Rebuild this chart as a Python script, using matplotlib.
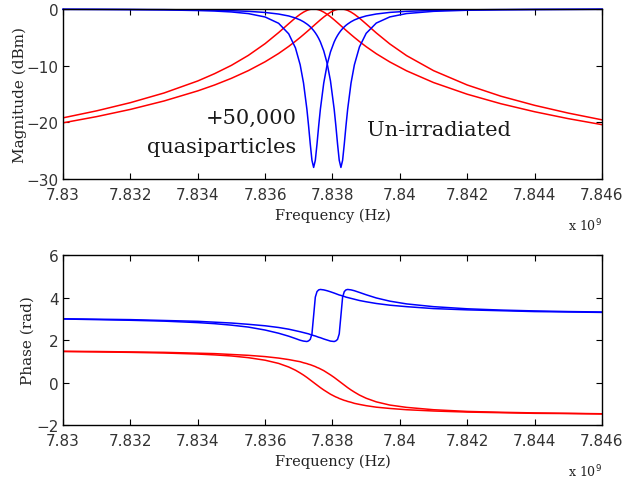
import numpy as np
import matplotlib
matplotlib.use('Agg')
import matplotlib.pyplot as plt

# frequency grid, MHz above 7.830 GHz
offset_mhz = [0, 1, 2, 3, 4, 4.5, 5, 5.5, 6, 6.4, 6.7, 6.9, 7.04, 7.14, 7.24, 7.29, 7.34, 7.39,
              7.44, 7.49, 7.54, 7.59, 7.64, 7.74, 7.84, 7.94, 8.05, 8.1, 8.15, 8.2, 8.25, 8.3,
              8.35, 8.4, 8.45, 8.55, 8.65, 8.8, 9.0, 9.3, 9.7, 10.2, 11, 12, 13, 14, 15, 16]

# magnitude (dBm)
mag_qp_red = [-19.21, -17.97, -16.53, -14.82, -12.70, -11.41, -9.94, -8.19, -6.11, -4.16, -2.59, -1.56,
              -0.93, -0.55, -0.25, -0.14, -0.06, -0.02, 0.0, -0.02, -0.06, -0.14, -0.25, -0.55,
              -0.93, -1.37, -1.91, -2.17, -2.43, -2.69, -2.96, -3.22, -3.49, -3.75, -4.01, -4.52,
              -5.02, -5.74, -6.65, -7.89, -9.34, -10.91, -12.98, -15.04, -16.72, -18.13, -19.35, -20.41]
mag_un_red = [-20.09, -18.99, -17.72, -16.23, -14.45, -13.41, -12.23, -10.88, -9.31, -7.85, -6.60, -5.69,
              -5.02, -4.52, -4.01, -3.75, -3.49, -3.22, -2.96, -2.69, -2.43, -2.17, -1.91, -1.42,
              -0.97, -0.58, -0.25, -0.14, -0.06, -0.02, 0.0, -0.02, -0.06, -0.14, -0.25, -0.55,
              -0.93, -1.61, -2.64, -4.22, -6.16, -8.23, -10.88, -13.41, -15.39, -17.00, -18.37, -19.56]
mag_qp_blue = [-0.06, -0.08, -0.11, -0.16, -0.27, -0.36, -0.52, -0.81, -1.41, -2.52, -4.38, -6.86,
               -9.84, -13.07, -17.69, -20.62, -23.83, -26.70, -27.96, -26.70, -23.83, -20.62, -17.69, -13.07,
               -9.84, -7.57, -5.81, -5.19, -4.66, -4.20, -3.80, -3.46, -3.15, -2.88, -2.65, -2.25,
               -1.93, -1.57, -1.22, -0.88, -0.60, -0.41, -0.25, -0.15, -0.10, -0.07, -0.06, -0.04]
mag_un_blue = [-0.05, -0.06, -0.08, -0.11, -0.18, -0.22, -0.30, -0.41, -0.61, -0.89, -1.23, -1.59,
               -1.93, -2.25, -2.65, -2.88, -3.15, -3.46, -3.80, -4.20, -4.66, -5.19, -5.81, -7.38,
               -9.57, -12.69, -17.69, -20.62, -23.83, -26.70, -27.96, -26.70, -23.83, -20.62, -17.69, -13.07,
               -9.84, -6.69, -4.29, -2.48, -1.40, -0.80, -0.41, -0.22, -0.14, -0.10, -0.07, -0.05]

# phase (rad)
ph_qp_red = [1.46, 1.44, 1.42, 1.39, 1.34, 1.30, 1.25, 1.17, 1.05, 0.90, 0.73, 0.58,
             0.45, 0.35, 0.24, 0.18, 0.12, 0.06, 0.0, -0.06, -0.12, -0.18, -0.24, -0.35,
             -0.45, -0.55, -0.64, -0.68, -0.71, -0.75, -0.78, -0.81, -0.84, -0.86, -0.89, -0.93,
             -0.98, -1.03, -1.09, -1.16, -1.22, -1.28, -1.34, -1.39, -1.42, -1.45, -1.46, -1.48]
ph_un_red = [1.47, 1.46, 1.44, 1.42, 1.38, 1.36, 1.32, 1.28, 1.22, 1.15, 1.08, 1.02,
             0.98, 0.93, 0.89, 0.86, 0.84, 0.81, 0.78, 0.75, 0.71, 0.68, 0.64, 0.56,
             0.46, 0.36, 0.24, 0.18, 0.12, 0.06, 0.0, -0.06, -0.12, -0.18, -0.24, -0.35,
             -0.45, -0.59, -0.74, -0.91, -1.06, -1.17, -1.28, -1.36, -1.40, -1.43, -1.45, -1.47]
ph_qp_blue = [2.99, 2.96, 2.93, 2.89, 2.82, 2.77, 2.70, 2.61, 2.47, 2.32, 2.18, 2.07,
              1.99, 1.95, 1.93, 1.96, 2.03, 2.29, 3.15, 4.02, 4.28, 4.36, 4.38, 4.36,
              4.32, 4.27, 4.21, 4.18, 4.15, 4.12, 4.10, 4.07, 4.05, 4.02, 4.00, 3.96,
              3.92, 3.86, 3.80, 3.72, 3.64, 3.57, 3.48, 3.42, 3.38, 3.34, 3.32, 3.30]
ph_un_blue = [3.00, 2.98, 2.96, 2.92, 2.88, 2.84, 2.80, 2.74, 2.67, 2.59, 2.51, 2.44,
              2.39, 2.35, 2.31, 2.29, 2.26, 2.24, 2.21, 2.19, 2.16, 2.13, 2.11, 2.05,
              2.00, 1.95, 1.93, 1.96, 2.03, 2.29, 3.15, 4.02, 4.28, 4.36, 4.38, 4.36,
              4.32, 4.24, 4.13, 3.98, 3.83, 3.70, 3.57, 3.47, 3.41, 3.37, 3.34, 3.32]

xticks = [7.83, 7.832, 7.834, 7.836, 7.838, 7.84, 7.842, 7.844, 7.846]
xtick_labels = ['7.83', '7.832', '7.834', '7.836', '7.838', '7.84', '7.842', '7.844', '7.846']

freq = 7.83 + np.array(offset_mhz) * 1e-3   # in units of 1e9 Hz

fig = plt.figure(figsize=(6.27, 4.81), dpi=100)
ax1 = fig.add_axes([0.1005, 0.6258, 0.8596, 0.3534])
ax2 = fig.add_axes([0.1005, 0.1143, 0.8596, 0.3534])

note_font = dict(family='DejaVu Serif', size=15, color='#1a1a1a')

def style(ax, ylim, yticks):
    ax.set_xlim(7.83, 7.846)
    ax.set_ylim(*ylim)
    ax.set_xticks(xticks)
    ax.set_xticklabels(xtick_labels)
    ax.set_yticks(yticks)
    ax.tick_params(direction='in', top=True, right=True, length=4, width=0.8,
                   labelsize=11, labelcolor='#333333', pad=3)
    ax.tick_params(axis='x', pad=6)
    for s in ax.spines.values():
        s.set_linewidth(1.0)
    ax.set_xlabel('Frequency (Hz)', family='DejaVu Serif', size=10.5, color='#222222', labelpad=4)
    ax.text(1.0, -0.27, r'x 10$^{9}$', transform=ax.transAxes, ha='right', va='center',
            family='DejaVu Serif', size=9, color='#222222')

# magnitude
ax1.plot(freq, mag_qp_red, color='red', lw=1.1)
ax1.plot(freq, mag_un_red, color='red', lw=1.1)
ax1.plot(freq, mag_qp_blue, color='blue', lw=1.1, clip_on=False)
ax1.plot(freq, mag_un_blue, color='blue', lw=1.1, clip_on=False)
style(ax1, (-30, 0), [-30, -20, -10, 0])
ax1.set_ylabel('Magnitude (dBm)', family='DejaVu Serif', size=11, color='#222222')
ax1.yaxis.set_label_coords(-0.067, 0.5)
ax1.text(7.83693, -19.1, '+50,000', ha='right', va='center', **note_font)
ax1.text(7.83693, -24.2, 'quasiparticles', ha='right', va='center', **note_font)
ax1.text(7.83902, -21.2, 'Un-irradiated', ha='left', va='center', **note_font)

# phase
ax2.plot(freq, ph_qp_red, color='red', lw=1.1)
ax2.plot(freq, ph_un_red, color='red', lw=1.1)
ax2.plot(freq, ph_qp_blue, color='blue', lw=1.1)
ax2.plot(freq, ph_un_blue, color='blue', lw=1.1)
style(ax2, (-2, 6), [-2, 0, 2, 4, 6])
ax2.set_ylabel('Phase (rad)', family='DejaVu Serif', size=11, color='#222222')
ax2.yaxis.set_label_coords(-0.053, 0.5)

fig.savefig('out.png', dpi=100)
